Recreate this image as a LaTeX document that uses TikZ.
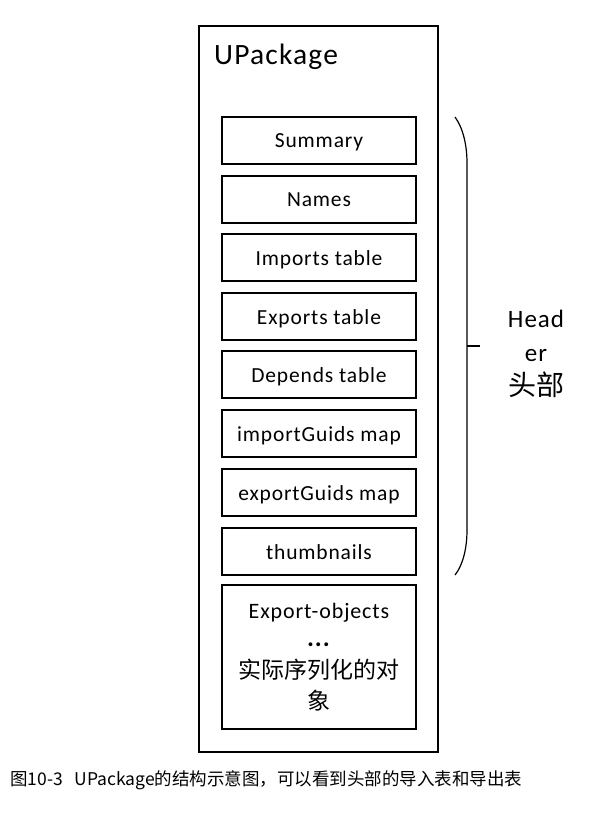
\documentclass[tikz,border=0pt]{standalone}
\usepackage{fontspec}
\setmainfont[LetterSpace=4]{Carlito}
\newfontfamily\cjk{Noto Sans CJK SC}
\newfontfamily\capfont{Noto Sans CJK SC}
\begin{document}
\begin{tikzpicture}[x=1pt,y=-1pt,
  outerbox/.style={draw,line width=1.2pt},
  fieldbox/.style={draw,line width=1.2pt,minimum width=194pt,minimum height=47pt,inner sep=0pt,text height=15pt,text depth=0pt,font=\fontsize{21.5}{24}\selectfont},
  brace/.style={line width=1.2pt}]
\useasboundingbox (0,0) rectangle (604,826);
\fill[white] (0,0) rectangle (604,826);
\node[outerbox,minimum width=239pt,minimum height=726pt,inner sep=0pt] (pkg) at (318.5,389) {};
\node[anchor=base west,font=\fontsize{29.5}{32}\selectfont,inner sep=0pt] (title) at (214,65) {UPackage};
\node[fieldbox] (summary) at (319,140.5) {Summary};
\node[fieldbox] (names) at (319,199.5) {Names};
\node[fieldbox] (imports) at (319,257.5) {Imports table};
\node[fieldbox] (exports) at (319,316.5) {Exports table};
\node[fieldbox] (depends) at (319,374.5) {Depends table};
\node[fieldbox] (importg) at (319,433.5) {importGuids map};
\node[fieldbox] (exportg) at (319,492.5) {exportGuids map};
\node[fieldbox] (thumbs) at (319,551.5) {thumbnails};
\node[draw,line width=1.2pt,minimum width=194pt,minimum height=144pt,inner sep=0pt,align=center,font=\fontsize{22}{31}\selectfont] (objects) at (319,657) {Export-objects\\[-3pt]{\fontsize{26}{26}\selectfont\textbf{...}}\\[1pt]{\cjk\fontsize{23}{31}\selectfont 实际序列化的对}\\{\cjk\fontsize{23}{31}\selectfont 象}};
\coordinate (bt) at (455,117);
\coordinate (bb) at (455,575);
\coordinate (bm) at (467,346);
\coordinate (btip) at (480,346);
\draw[brace] (bt) .. controls (463,128) and (467,145) .. (467,163) -- (467,530) .. controls (467,548) and (463,565) .. (bb);
\draw[brace] (bm) -- (btip);
\node[align=center,font=\fontsize{25}{34}\selectfont] (hdr) at (536,354) {Head\\er\\{\cjk\fontsize{28}{34}\selectfont 头部}};
\node[anchor=base west,inner sep=0pt,font=\capfont\fontsize{17.5}{20}\selectfont] (cap) at (10,785) {图10-3\ \ \ UPackage的结构示意图，可以看到头部的导入表和导出表};
\end{tikzpicture}
\end{document}
